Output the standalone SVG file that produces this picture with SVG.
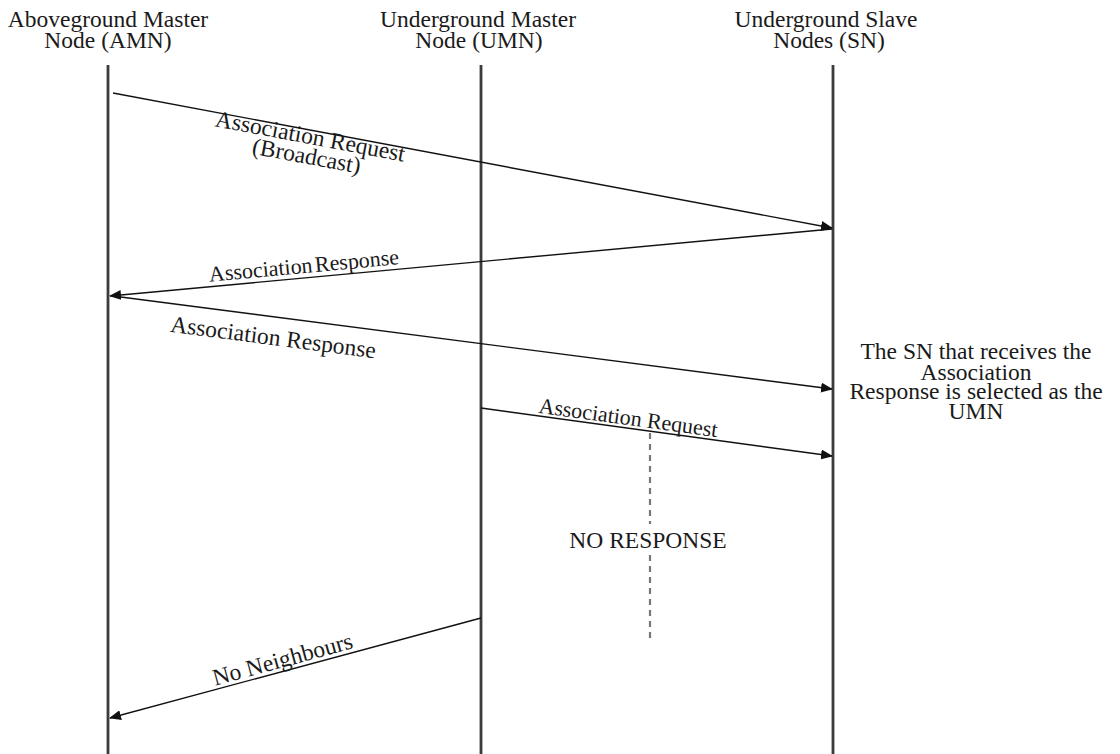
<svg xmlns="http://www.w3.org/2000/svg" width="1120" height="754" viewBox="0 0 1120 754">
  <style>
    .txt { font-family: "Liberation Serif", "Times New Roman", serif; font-size: 23.5px; fill: #1a1a1a; }
    .life { stroke: #3c3c3c; stroke-width: 2.8; fill: none; }
    .msg { stroke: #111; stroke-width: 1.4; fill: none; marker-end: url(#head); }
    .dash { stroke: #777; stroke-width: 2.2; stroke-dasharray: 6 5; fill: none; }
  </style>
  <defs>
    <marker id="head" markerWidth="12" markerHeight="10" refX="11" refY="5" orient="auto" markerUnits="userSpaceOnUse">
      <path d="M0,0 L12,5 L0,10 Z" fill="#111"/>
    </marker>
  </defs>
  <rect width="1120" height="754" fill="#ffffff"/>

  <!-- lifeline: aboveground master node -->
  <g id="amn">
    <text class="txt" text-anchor="middle" x="108" y="27">Aboveground Master</text>
    <text class="txt" text-anchor="middle" x="108" y="48">Node (AMN)</text>
    <line class="life" x1="108" y1="65" x2="108" y2="754"/>
  </g>

  <!-- lifeline: underground master node -->
  <g id="umn">
    <text class="txt" text-anchor="middle" x="478" y="27">Underground Master</text>
    <text class="txt" text-anchor="middle" x="479" y="48">Node (UMN)</text>
    <line class="life" x1="481" y1="65" x2="481" y2="754"/>
  </g>

  <!-- lifeline: underground slave nodes -->
  <g id="sn">
    <text class="txt" text-anchor="middle" x="826" y="27">Underground Slave</text>
    <text class="txt" text-anchor="middle" x="829" y="48">Nodes (SN)</text>
    <line class="life" x1="833" y1="65" x2="833" y2="754"/>
  </g>

  <!-- side note next to the slave nodes -->
  <g id="note">
    <text class="txt" text-anchor="middle" x="976" y="359">The SN that receives the</text>
    <text class="txt" text-anchor="middle" x="976" y="379.5">Association</text>
    <text class="txt" text-anchor="middle" x="976" y="399">Response is selected as the</text>
    <text class="txt" text-anchor="middle" x="976" y="418.5">UMN</text>
  </g>

  <!-- no-response marker -->
  <g id="no-response">
    <line class="dash" x1="650" y1="433" x2="650" y2="524"/>
    <line class="dash" x1="650" y1="555" x2="650" y2="641"/>
    <text class="txt" text-anchor="middle" x="648" y="548">NO RESPONSE</text>
  </g>

  <!-- messages -->
  <g id="connectors">
    <line class="msg" x1="113" y1="93" x2="832" y2="228"/>
    <line class="msg" x1="832" y1="229" x2="110" y2="296"/>
    <line class="msg" x1="113" y1="296" x2="832" y2="389"/>
    <line class="msg" x1="481" y1="408" x2="832" y2="456"/>
    <line class="msg" x1="481" y1="618" x2="110" y2="718"/>

    <g transform="translate(310,138) rotate(10.6)">
      <text class="txt" text-anchor="middle" x="0" y="6">Association Request</text>
      <text class="txt" text-anchor="middle" x="0" y="26">(Broadcast)</text>
    </g>
    <g transform="translate(304,267) rotate(-5.3)">
      <text class="txt" text-anchor="middle" x="0" y="6" style="font-size:22px; word-spacing:-3px">Association Response</text>
    </g>
    <g transform="translate(273,339) rotate(7.4)">
      <text class="txt" text-anchor="middle" x="0" y="6">Association Response</text>
    </g>
    <g transform="translate(628,419) rotate(7.8)">
      <text class="txt" text-anchor="middle" x="0" y="6" style="font-size:22px">Association Request</text>
    </g>
    <g transform="translate(283,661) rotate(-15.2)">
      <text class="txt" text-anchor="middle" x="0" y="6">No Neighbours</text>
    </g>
  </g>
</svg>
